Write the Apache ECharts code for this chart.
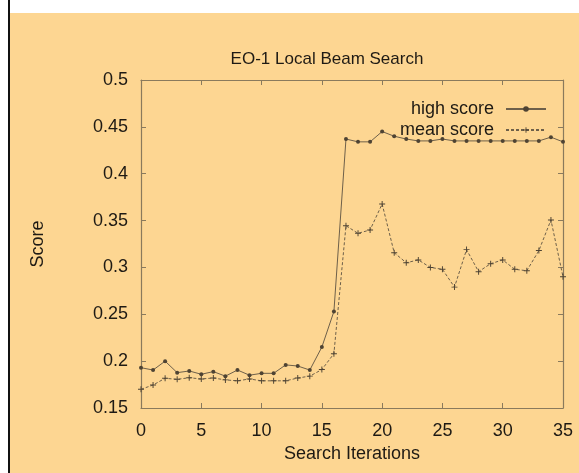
<!DOCTYPE html>
<html><head><meta charset="utf-8">
<script src="https://cdn.jsdelivr.net/npm/echarts@6/dist/echarts.min.js"></script>
<style>html,body{margin:0;padding:0;background:#fff}#c{width:579px;height:473px}</style>
</head><body><div id="c"></div>
<script>
const iterations = [0,1,2,3,4,5,6,7,8,9,10,11,12,13,14,15,16,17,18,19,20,21,22,23,24,25,26,27,28,29,30,31,32,33,34,35];
const highScore = [0.193,0.1905,0.200,0.1877,0.1895,0.186,0.1888,0.184,0.1905,0.185,0.187,0.187,0.196,0.1948,0.1905,0.215,0.253,0.437,0.434,0.434,0.445,0.440,0.437,0.435,0.435,0.437,0.435,0.435,0.435,0.435,0.435,0.435,0.435,0.435,0.439,0.434];
const meanScore = [0.170,0.1745,0.1817,0.1806,0.1823,0.181,0.182,0.180,0.179,0.181,0.179,0.179,0.179,0.182,0.184,0.191,0.208,0.3445,0.3364,0.340,0.3677,0.3157,0.305,0.308,0.300,0.298,0.279,0.319,0.2955,0.304,0.308,0.298,0.2965,0.318,0.3506,0.29];
const xTicks = [0,5,10,15,20,25,30,35];
const yTicks = [0.15,0.2,0.25,0.3,0.35,0.4,0.45,0.5];

const chart = echarts.init(document.getElementById('c'), null, {renderer:'canvas'});
const axisCol = '#8a7a5c';
const lineCol = '#6e604a';
const txt = '#1e1a14';
const font = 'Liberation Sans, Arial, Helvetica, sans-serif';
const plus = 'path://M-0.8,-5H0.8V-0.8H5V0.8H0.8V5H-0.8V0.8H-5V-0.8H-0.8Z';
const xBase = {type:'value', min:0, max:35, interval:5, splitLine:{show:false},
  axisLine:{show:true, onZero:false, lineStyle:{color:axisCol, width:1.2}},
  axisTick:{show:true, inside:true, length:5, lineStyle:{color:axisCol}}};
const yBase = {type:'value', min:0.15, max:0.5, interval:0.05, splitLine:{show:false},
  axisLine:{show:true, onZero:false, lineStyle:{color:axisCol, width:1.2}},
  axisTick:{show:true, inside:true, length:5, lineStyle:{color:axisCol}}};
chart.setOption({
  backgroundColor:'#ffffff',
  animation:false,
  textStyle:{fontFamily:font},
  graphic:[
    {type:'rect', z:-10, shape:{x:10,y:13,width:569,height:460}, style:{fill:'#fdd692'}},
    {type:'rect', z:-10, shape:{x:8,y:0,width:2,height:473}, style:{fill:'#111'}}
  ],
  title:{text:'EO-1 Local Beam Search', left:322, top:46, textAlign:'center',
    textStyle:{fontSize:17, fontWeight:'normal', color:txt, fontFamily:font}},
  grid:{left:141, top:80, right:16, bottom:65},
  legend:{orient:'vertical', right:27, top:95, align:'right', itemGap:3, itemWidth:40, itemHeight:7,
    textStyle:{fontSize:18, color:txt, fontFamily:font, padding:[0,7,0,0]},
    data:['high score','mean score']},
  xAxis:[
    Object.assign({}, xBase, {position:'bottom', name:'Search Iterations', nameLocation:'middle', nameGap:35,
      nameTextStyle:{fontSize:18, color:txt, fontFamily:font},
      axisLabel:{fontSize:18, color:txt, margin:14, fontFamily:font,
        formatter:v => xTicks.includes(v) ? String(v) : ''}}),
    Object.assign({}, xBase, {position:'top', axisLabel:{show:false}})
  ],
  yAxis:[
    Object.assign({}, yBase, {position:'left', name:'Score', nameLocation:'middle', nameGap:94, nameRotate:90,
      nameTextStyle:{fontSize:18, color:txt, fontFamily:font},
      axisLabel:{fontSize:18, color:txt, margin:13, fontFamily:font,
        formatter:v => { const t = yTicks.find(k => Math.abs(k - v) < 1e-9); return t === undefined ? '' : String(t); }}}),
    Object.assign({}, yBase, {position:'right', axisLabel:{show:false}})
  ],
  series:[
    {name:'high score', type:'line', xAxisIndex:0, yAxisIndex:0,
      data:iterations.map((x,i)=>[x, highScore[i]]),
      symbol:'circle', symbolSize:4, showSymbol:true,
      itemStyle:{color:'#4e4333'}, lineStyle:{color:lineCol, width:1, type:'solid'}},
    {name:'mean score', type:'line', xAxisIndex:0, yAxisIndex:0,
      data:iterations.map((x,i)=>[x, meanScore[i]]),
      symbol:plus, symbolSize:6, showSymbol:true,
      itemStyle:{color:'#4e4333'}, lineStyle:{color:lineCol, width:1, type:[3,2]}}
  ]
});
</script></body></html>
